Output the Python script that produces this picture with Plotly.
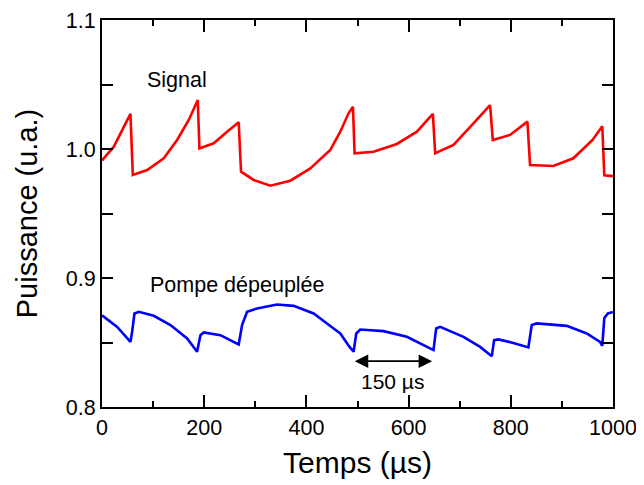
import plotly.graph_objects as go

# Signal (red) trace
sig_x = [0, 3.5, 23.1, 39.5, 55.7, 60.3, 88.4, 120.9, 147, 169.8, 187.4, 190.6, 218.6, 244.8, 267.5, 272.1, 296.8, 329.4,
         368.5, 407.6, 446.7, 466.3, 482.5, 491.1, 494.3, 531.4, 577.1, 616.2, 647.5, 652, 687.8, 726.9, 759.5, 764.8,
         798.6, 832.5, 837.7, 883.3, 922.4, 960, 979, 983, 1000]
sig_y = [0.991, 0.9928, 1.0018, 1.0147, 1.0272, 0.9798, 0.9837, 0.9928, 1.007, 1.0225, 1.038, 1.0005, 1.0044, 1.0134, 1.0207, 0.9824, 0.976, 0.9715,
         0.9754, 0.985, 0.9992, 1.0134, 1.0277, 1.0328, 0.9967, 0.9979, 1.0039, 1.0134, 1.0272, 0.9967, 1.0031, 1.0199, 1.0341, 1.007,
         1.0109, 1.0212, 0.9876, 0.9868, 0.9928, 1.0070, 1.0176, 0.9796, 0.979]

# Depleted pump (blue) trace
pump_x = [0, 3.5, 29.7, 55.7, 59, 63.5, 72, 101.3, 133.9, 166.6, 186.1, 192.6, 199, 231.7, 267.5, 274.1, 283.9, 303.4, 342.5,
          375, 414.1, 453.2, 466.3, 484.5, 492.3, 497.6, 505.4, 550.9, 596.6, 648.7, 654, 661.8, 707.3, 740, 762.8, 767.4,
          775.8, 805, 834.4, 841, 850.8, 909.5, 948.6, 974.6, 979, 983, 990, 1000]
pump_y = [0.871, 0.8699, 0.8621, 0.8505, 0.8583, 0.8725, 0.8738, 0.8707, 0.8635, 0.8531, 0.8428, 0.8557, 0.8578, 0.8557, 0.8485, 0.8635, 0.8738, 0.8764, 0.8795,
          0.8784, 0.8725, 0.8609, 0.857, 0.8466, 0.8428, 0.857, 0.8601, 0.8588, 0.8544, 0.8441, 0.8609, 0.8621, 0.8544, 0.8466, 0.8394, 0.8518,
          0.8524, 0.8497, 0.8462, 0.8635, 0.8648, 0.8629, 0.857, 0.8505, 0.8473, 0.8690, 0.8725, 0.8737]

x_ticks = [0, 200, 400, 600, 800, 1000]
y_ticks = [0.8, 0.9, 1.0, 1.1]

arrow_start, arrow_end, arrow_y = 491.7, 646, 0.8355

FONT = "Liberation Sans, Arial, sans-serif"

fig = go.Figure()
fig.add_trace(go.Scatter(x=sig_x, y=sig_y, mode="lines", line=dict(color="#ff0000", width=2.6), showlegend=False))
fig.add_trace(go.Scatter(x=pump_x, y=pump_y, mode="lines", line=dict(color="#0000ff", width=2.6), showlegend=False))

fig.add_annotation(x=146, y=1.0535, text="Signal", showarrow=False, font=dict(size=21.5, color="black", family=FONT))
fig.add_annotation(x=265, y=0.8945, text="Pompe dépeuplée", showarrow=False, font=dict(size=21.5, color="black", family=FONT))
fig.add_annotation(x=(arrow_start + arrow_end) / 2, y=0.8195, text="150 µs", showarrow=False, font=dict(size=21, color="black", family=FONT))
fig.add_annotation(x=arrow_end, y=arrow_y, ax=arrow_start, ay=arrow_y, axref="x", ayref="y", xref="x", yref="y",
                   showarrow=True, arrowhead=2, arrowsize=1.5, arrowwidth=1.8, arrowside="end+start", arrowcolor="black", text="")

axis_common = dict(showline=True, linecolor="black", linewidth=2, mirror="ticks", ticks="inside", tickwidth=2,
                   tickcolor="black", showgrid=False, zeroline=False, automargin=False,
                   tickfont=dict(size=21.5, family=FONT, color="black"))

fig.update_xaxes(range=[0, 1000], tickvals=x_ticks, ticklen=12,
                 title=dict(text="Temps (µs)", font=dict(size=30, family=FONT, color="black"), standoff=13),
                 minor=dict(dtick=100, ticks="inside", ticklen=6, tickwidth=2, tickcolor="black"), **axis_common)
fig.update_yaxes(range=[0.8, 1.1], tickvals=y_ticks, tickformat=".1f", ticklen=11,
                 title=dict(text="Puissance (u.a.)", font=dict(size=29, family=FONT, color="black"), standoff=20),
                 minor=dict(dtick=0.05, ticks="inside", ticklen=11, tickwidth=2, tickcolor="black"), **axis_common)

# page body has an 8px margin, so the figure is sized/positioned to compensate
fig.update_layout(width=636, height=477, margin=dict(l=93.5, r=31, t=12, b=78), plot_bgcolor="white", paper_bgcolor="white")

fig.write_html("out.html")
